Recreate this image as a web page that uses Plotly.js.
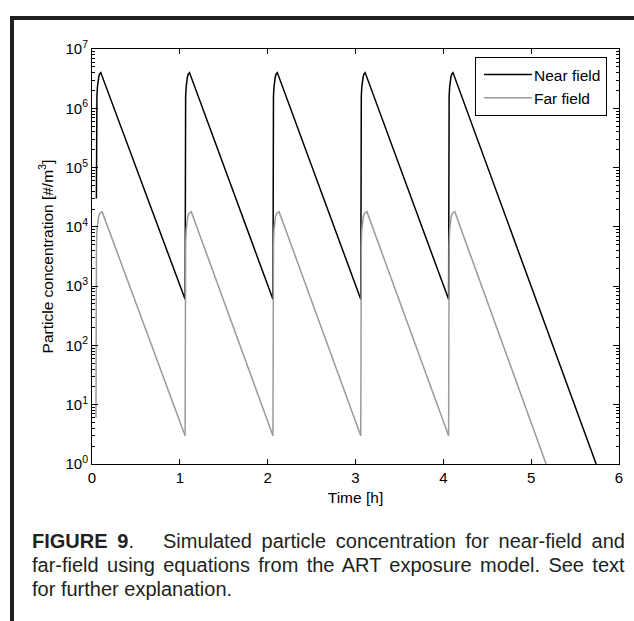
<!DOCTYPE html>
<html>
<head>
<meta charset="utf-8">
<script src="https://cdn.plot.ly/plotly-3.0.1.min.js"></script>
<style>
  html, body { margin: 0; padding: 0; background: #ffffff; }
  #chart { position: absolute; left: 0; top: 0; width: 634px; height: 621px; }
  #frame {
    position: absolute; left: 10px; top: 16px; width: 624px; height: 605px;
    border-top: 4px solid #231f20; border-left: 4px solid #231f20;
    box-sizing: border-box; pointer-events: none;
  }
</style>
</head>
<body>
<div id="chart"></div>
<div id="frame"></div>
<script>
// Simulated particle concentration [#/m^3] over time [h]
const nearTime = [
  0.05, 0.052, 0.056, 0.062, 0.069, 0.077, 0.087, 0.10,
  1.06, 1.062, 1.066, 1.072, 1.079, 1.087, 1.097, 1.11,
  2.06, 2.062, 2.066, 2.072, 2.079, 2.087, 2.097, 2.11,
  3.06, 3.062, 3.066, 3.072, 3.079, 3.087, 3.097, 3.11,
  4.06, 4.062, 4.066, 4.072, 4.079, 4.087, 4.097, 4.11,
  5.74
];
const nearConc = [
  3.0e4, 1.0e6, 1.6e6, 2.3e6, 2.9e6, 3.4e6, 3.8e6, 4.0e6,
  6.0e2, 1.0e6, 1.6e6, 2.3e6, 2.9e6, 3.4e6, 3.8e6, 4.0e6,
  6.0e2, 1.0e6, 1.6e6, 2.3e6, 2.9e6, 3.4e6, 3.8e6, 4.0e6,
  6.0e2, 1.0e6, 1.6e6, 2.3e6, 2.9e6, 3.4e6, 3.8e6, 4.0e6,
  6.0e2, 1.0e6, 1.6e6, 2.3e6, 2.9e6, 3.4e6, 3.8e6, 4.0e6,
  1.0
];
const farTime = [
  0.045, 0.047, 0.051, 0.057, 0.065, 0.075, 0.09, 0.115,
  1.06, 1.062, 1.066, 1.072, 1.08, 1.09, 1.105, 1.13,
  2.06, 2.062, 2.066, 2.072, 2.08, 2.09, 2.105, 2.13,
  3.06, 3.062, 3.066, 3.072, 3.08, 3.09, 3.105, 3.13,
  4.06, 4.062, 4.066, 4.072, 4.08, 4.09, 4.105, 4.13,
  5.17
];
const farConc = [
  6.0, 1.5e3, 5.0e3, 9.0e3, 1.25e4, 1.5e4, 1.7e4, 1.8e4,
  3.0, 1.5e3, 5.0e3, 9.0e3, 1.25e4, 1.5e4, 1.7e4, 1.8e4,
  3.0, 1.5e3, 5.0e3, 9.0e3, 1.25e4, 1.5e4, 1.7e4, 1.8e4,
  3.0, 1.5e3, 5.0e3, 9.0e3, 1.25e4, 1.5e4, 1.7e4, 1.8e4,
  3.0, 1.5e3, 5.0e3, 9.0e3, 1.25e4, 1.5e4, 1.7e4, 1.8e4,
  1.0
];
const seriesNames = ['Near field', 'Far field'];

const xTickVals = [0, 1, 2, 3, 4, 5, 6];
const yTickVals = [1, 10, 100, 1e3, 1e4, 1e5, 1e6, 1e7];
const yTickText = ['10<sup>0</sup>', '10<sup>1</sup>', '10<sup>2</sup>', '10<sup>3</sup>',
                   '10<sup>4</sup>', '10<sup>5</sup>', '10<sup>6</sup>', '10<sup>7</sup>'];

const xTitle = 'Time [h]';
const yTitle = 'Particle concentration [#/m<sup>3</sup>]';
const captionLines = [
  '<b>FIGURE 9</b>.\u00a0\u00a0 Simulated particle concentration for near-field and',
  'far-field using equations from the ART exposure model. See text',
  'for further explanation.'
];

// page geometry (pixels)
const W = 634, H = 621;
const M = { l: 92, r: 15, t: 49, b: 157 };
const PW = W - M.l - M.r, PH = H - M.t - M.b;
const px2x = px => (px - M.l) / PW;
const py2y = py => (H - M.b - py) / PH;

const FONT = '"Liberation Sans", Arial, Helvetica, sans-serif';

const traces = [
  { x: nearTime, y: nearConc, name: seriesNames[0], type: 'scatter', mode: 'lines',
    line: { color: '#000000', width: 1.5 } },
  { x: farTime, y: farConc, name: seriesNames[1], type: 'scatter', mode: 'lines',
    line: { color: '#9a9a9a', width: 1.5 } }
];

const captionLeft = 31;
const captionY = [541, 565, 589];
const annotations = captionLines.map((t, i) => ({
  text: t, xref: 'paper', yref: 'paper', x: px2x(captionLeft), y: py2y(captionY[i]),
  xanchor: 'left', yanchor: 'middle', align: 'left', showarrow: false, borderpad: 0,
  font: { family: FONT, size: 20, color: '#231f20' }
}));

const axisCommon = {
  showline: true, linecolor: '#000', linewidth: 1, mirror: 'ticks',
  ticks: 'inside', tickcolor: '#000', showgrid: false, zeroline: false,
  tickfont: { family: FONT, size: 15, color: '#000' }
};

const layout = {
  width: W, height: H, margin: M,
  paper_bgcolor: '#ffffff', plot_bgcolor: '#ffffff',
  font: { family: FONT, size: 15, color: '#000' },
  showlegend: true,
  legend: {
    x: px2x(607), y: py2y(57), xanchor: 'right', yanchor: 'top',
    bordercolor: '#000', borderwidth: 1, bgcolor: '#ffffff', itemwidth: 48,
    font: { family: FONT, size: 15.5, color: '#000' }, tracegroupgap: 0
  },
  xaxis: Object.assign({}, axisCommon, {
    range: [0, 6], tickmode: 'array', tickvals: xTickVals, ticklen: 5,
    title: { text: xTitle, font: { family: FONT, size: 15.5 }, standoff: 7 }
  }),
  yaxis: Object.assign({}, axisCommon, {
    type: 'log', range: [0, 7], tickmode: 'array', tickvals: yTickVals, ticktext: yTickText,
    ticklen: 6,
    minor: { ticks: 'inside', ticklen: 3, tickcolor: '#000', dtick: 'D1', showgrid: false },
    title: { text: yTitle, font: { family: FONT, size: 15.5 }, standoff: 8 }
  }),
  annotations: annotations
};

Plotly.newPlot('chart', traces, layout, { displayModeBar: false, staticPlot: true }).then(gd => {
  // legend samples span the widened symbol column
  gd.querySelectorAll('.legendlines path').forEach(p => p.setAttribute('d', 'M8,0h48'));

  // justify the first two caption lines to the text block width
  const rightEdge = 625;
  const texts = gd.querySelectorAll('.annotation-text');
  [0, 1].forEach(i => {
    const el = texts[i];
    if (!el) return;
    const box = el.getBoundingClientRect();
    const gaps = (el.textContent.match(/[ \u00a0]/g) || []).length;
    const extra = (rightEdge - box.right) / gaps;
    if (gaps > 0 && extra > 0) el.style.wordSpacing = extra + 'px';
  });

  // carry each text's computed size as an explicit attribute as well
  gd.querySelectorAll('svg text').forEach(t => {
    const fs = window.getComputedStyle(t).fontSize;
    if (fs) t.setAttribute('font-size', fs);
  });
});
</script>
</body>
</html>
